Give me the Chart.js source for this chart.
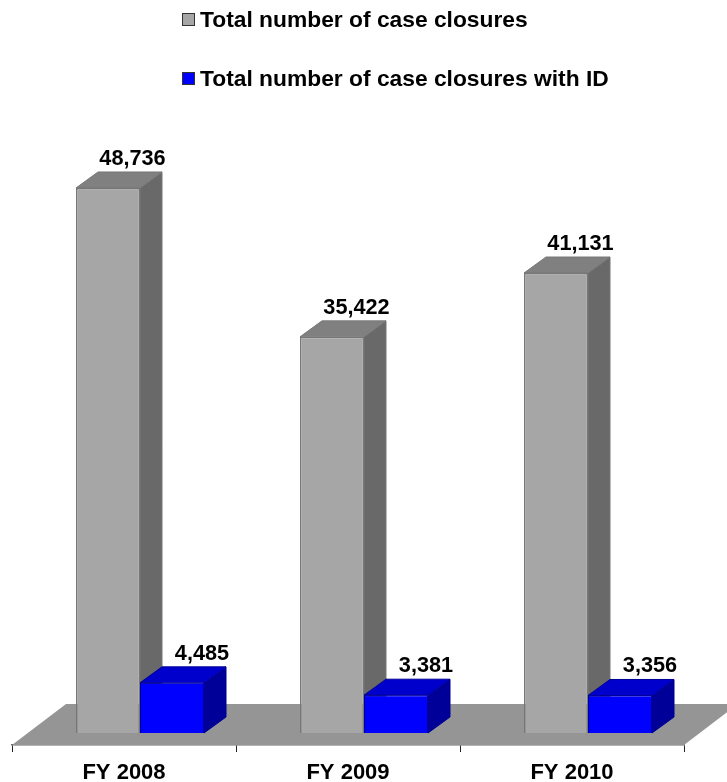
<!DOCTYPE html>
<html>
<head>
<meta charset="utf-8">
<title>Case closures</title>
<script src="https://cdn.jsdelivr.net/npm/chart.js@4/dist/chart.umd.js"></script>
<style>
    html, body { margin: 0; padding: 0; background: #fff; }
    #wrap { position: relative; width: 727px; height: 782px; overflow: hidden; }
    #legend { position: absolute; left: 182px; top: 0; font: bold 22.8px "Liberation Sans", Arial, sans-serif; color: #000; }
    .legend-item { position: absolute; left: 0; white-space: nowrap; height: 24px; line-height: 24px; }
    .legend-box { position: absolute; left: 0; top: 6px; width: 11px; height: 11px; border: 1px solid #333; }
    .legend-label { position: absolute; left: 18px; top: 0; }
</style>
</head>
<body>
<div id="wrap">
    <canvas id="chart" width="727" height="782"></canvas>
    <div id="legend"></div>
</div>
<script>
const categories = ['FY 2008', 'FY 2009', 'FY 2010'];
const seriesNames = ['Total number of case closures', 'Total number of case closures with ID'];
const totalClosures = [48736, 35422, 41131];
const closuresWithId = [4485, 3381, 3356];

// Fake 3D settings
const depthX = 22;
const depthY = -16;
const shiftX = 16;   // bars stand a bit behind the front edge of the floor
const shiftY = -12;
const labelFont = 'bold 21.7px "Liberation Sans", Arial, sans-serif';

const faces = [
    { front: '#a6a6a6', border: '#777777', top: '#808080', side: '#696969', labelDx: 24.5 },
    { front: '#0000ff', border: '#000099', top: '#0000cc', side: '#000099', labelDx: 30 }
];

// Custom legend, stacked and left aligned
const legendTops = [7, 66];
const legendColors = ['#a6a6a6', '#0000ff'];
const legendEl = document.getElementById('legend');
seriesNames.forEach((name, i) => {
    const item = document.createElement('div');
    item.className = 'legend-item';
    item.style.top = legendTops[i] + 'px';
    const box = document.createElement('span');
    box.className = 'legend-box';
    box.style.backgroundColor = legendColors[i];
    const label = document.createElement('span');
    label.className = 'legend-label';
    label.textContent = name;
    item.appendChild(box);
    item.appendChild(label);
    legendEl.appendChild(item);
});

function poly(ctx, pts, fill, stroke) {
    ctx.beginPath();
    pts.forEach((p, i) => i ? ctx.lineTo(p[0], p[1]) : ctx.moveTo(p[0], p[1]));
    ctx.closePath();
    ctx.fillStyle = fill;
    ctx.fill();
    ctx.strokeStyle = stroke;
    ctx.lineWidth = 1;
    ctx.stroke();
}

const box3d = {
    id: 'box3d',
    beforeDatasetsDraw(chart) {
        const ctx = chart.ctx;
        const a = chart.chartArea;

        // Floor
        ctx.save();
        ctx.beginPath();
        ctx.moveTo(a.left, a.bottom);
        ctx.lineTo(a.left + 54, a.bottom - 41);
        ctx.lineTo(a.right + 54, a.bottom - 41);
        ctx.lineTo(a.right, a.bottom);
        ctx.closePath();
        ctx.fillStyle = '#959595';
        ctx.fill();
        ctx.restore();

        // Side and top faces, the fronts come from the bars themselves
        ctx.save();
        ctx.translate(shiftX, shiftY);
        faces.forEach((f, d) => {
            chart.getDatasetMeta(d).data.forEach(bar => {
                const l = bar.x - bar.width / 2;
                const r = bar.x + bar.width / 2;
                poly(ctx, [[r, bar.y], [r + depthX, bar.y + depthY], [r + depthX, bar.base + depthY], [r, bar.base]], f.side, f.border);
                poly(ctx, [[l, bar.y], [l + depthX, bar.y + depthY], [r + depthX, bar.y + depthY], [r, bar.y]], f.top, f.border);
            });
        });
        ctx.restore();

        // Fronts get the same shift, undone after the datasets are drawn
        ctx.save();
        ctx.translate(shiftX, shiftY);
    },
    afterDatasetsDraw(chart) {
        const ctx = chart.ctx;
        ctx.font = labelFont;
        ctx.fillStyle = '#000';
        ctx.textAlign = 'center';
        ctx.textBaseline = 'alphabetic';
        faces.forEach((f, d) => {
            const values = chart.data.datasets[d].data;
            chart.getDatasetMeta(d).data.forEach((bar, i) => {
                ctx.fillText(values[i].toLocaleString('en-US'), bar.x + f.labelDx, bar.y + depthY - 7);
            });
        });
        ctx.restore();
    }
};

new Chart(document.getElementById('chart'), {
    type: 'bar',
    data: {
        labels: categories,
        datasets: [
            { label: seriesNames[0], data: totalClosures, backgroundColor: faces[0].front, borderColor: faces[0].border, borderWidth: 1.5, clip: false },
            { label: seriesNames[1], data: closuresWithId, backgroundColor: faces[1].front, borderColor: faces[1].border, borderWidth: 1, clip: false }
        ]
    },
    options: {
        responsive: false,
        animation: false,
        layout: { padding: { left: 12, right: 43, top: 74, bottom: 0 } },
        plugins: { legend: { display: false }, tooltip: { enabled: false } },
        datasets: { bar: { barPercentage: 1, categoryPercentage: 128 / 224 } },
        scales: {
            x: {
                afterFit(scale) { scale.height = 37; },
                grid: { drawOnChartArea: false, tickLength: 7, color: '#222222', offset: true },
                border: { color: '#666666', width: 1.5 },
                ticks: {
                    color: '#000',
                    padding: 8,
                    maxRotation: 0,
                    font: { family: '"Liberation Sans", Arial, sans-serif', size: 22, weight: 'bold' }
                }
            },
            y: { display: false, min: 0, max: 60000 }
        }
    },
    plugins: [box3d]
});
</script>
</body>
</html>
